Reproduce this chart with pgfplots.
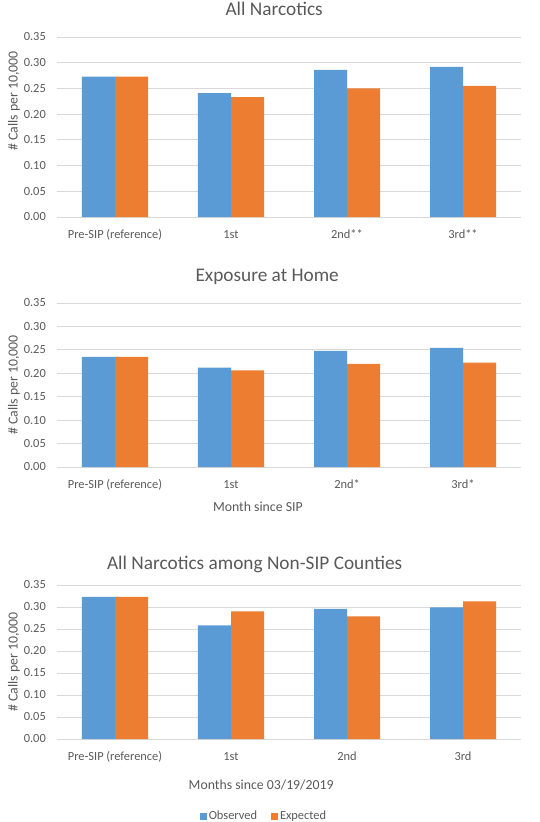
\documentclass[border=0pt]{standalone}
\usepackage{fontspec}
\setmainfont{Carlito}
\usepackage{pgfplots}
\pgfplotsset{compat=1.18}
\definecolor{obs}{RGB}{91,155,213}
\definecolor{expc}{RGB}{237,125,49}
\definecolor{txt}{RGB}{89,89,89}
\definecolor{grd}{RGB}{217,217,217}
\newcommand{\tickfont}{\fontsize{12.4bp}{14bp}\selectfont}
\newcommand{\labfont}{\fontsize{13.8bp}{16bp}\selectfont}
\newcommand{\titfont}{\fontsize{19.3bp}{22bp}\selectfont}
\pgfplotsset{
  panel/.style={
    scale only axis, width=464bp,
    ybar=0pt, bar width=33bp,
    xmin=-0.5, xmax=3.5, ymin=0, ymax=0.35,
    xtick={0,1,2,3},
    ytick={0,0.05,0.10,0.15,0.20,0.25,0.30,0.35},
    ymajorgrids, grid style={grd, line width=0.9bp},
    axis line style={draw=none}, major tick length=0,
    tick label style={font=\tickfont, text=txt},
    /pgf/number format/assume math mode=true,
    yticklabel style={/pgf/number format/.cd, fixed, fixed zerofill, precision=2, /tikz/.cd, anchor=east, inner sep=0pt, xshift=-11bp},
    xticklabel style={anchor=base, inner sep=0pt, yshift=-21bp},
    ylabel={\# Calls per 10,000},
    ylabel style={font=\labfont, text=txt, anchor=center, rotate=0},
    title style={font=\titfont, text=txt, anchor=base, inner sep=0pt},
    xlabel style={font=\labfont, text=txt, anchor=base, inner sep=0pt},
    clip=false,
  },
  sq/.style={legend image code/.code={\fill[##1] (0bp,-3.5bp) rectangle (7bp,3.5bp);}},
}
\begin{document}
\begin{tikzpicture}
\path[use as bounding box] (0,0) rectangle (540bp,-822bp);
% Panel 1
\begin{axis}[panel, height=180bp, at={(57bp,-217bp)}, anchor=south west,
  title={All Narcotics}, title style={at={(axis description cs:0.468,1.088)}},
  ylabel style={at={(axis description cs:-0.093,0.644)}},
  xticklabels={Pre-SIP (reference),1st,2nd**,3rd**}]
\addplot[fill=obs, draw=none] coordinates {(0,0.273) (1,0.241) (2,0.286) (3,0.292)};
\addplot[fill=expc, draw=none] coordinates {(0,0.273) (1,0.233) (2,0.250) (3,0.255)};
\end{axis}
% Panel 2
\begin{axis}[panel, height=164bp, at={(57bp,-467bp)}, anchor=south west,
  title={Exposure at Home}, title style={at={(axis description cs:0.453,1.097)}},
  ylabel style={at={(axis description cs:-0.093,0.5)}},
  xlabel={Month since SIP}, xlabel style={at={(axis description cs:0.433,-0.27)}},
  xticklabels={Pre-SIP (reference),1st,2nd*,3rd*}]
\addplot[fill=obs, draw=none] coordinates {(0,0.235) (1,0.212) (2,0.248) (3,0.254)};
\addplot[fill=expc, draw=none] coordinates {(0,0.235) (1,0.206) (2,0.220) (3,0.223)};
\end{axis}
% Panel 3
\begin{axis}[panel, height=154bp, at={(57bp,-739bp)}, anchor=south west,
  title={All Narcotics among Non-SIP Counties}, title style={at={(axis description cs:0.426,1.059)}},
  ylabel style={at={(axis description cs:-0.093,0.5)}},
  xlabel={Months since 03/19/2019}, xlabel style={at={(axis description cs:0.44,-0.33)}},
  xticklabels={Pre-SIP (reference),1st,2nd,3rd},
  legend style={at={(axis description cs:0.446,-0.5)}, anchor=center, draw=none, fill=none,
    legend columns=2, font=\tickfont, text=txt,
    /tikz/every even column/.append style={column sep=12bp}}]
\addplot[fill=obs, draw=none, sq] coordinates {(0,0.323) (1,0.258) (2,0.296) (3,0.299)};
\addplot[fill=expc, draw=none, sq] coordinates {(0,0.323) (1,0.290) (2,0.279) (3,0.313)};
\legend{Observed, Expected}
\end{axis}
\end{tikzpicture}
\end{document}
